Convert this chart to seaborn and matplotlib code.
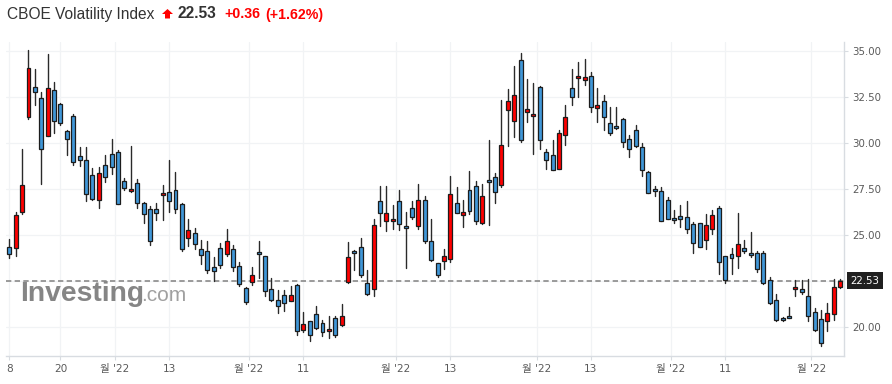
import numpy as np
import pandas as pd
import matplotlib
matplotlib.use("Agg")
import matplotlib.pyplot as plt
import seaborn as sns
from matplotlib.patches import Polygon

# ---------------- data ----------------
title = "CBOE Volatility Index"
last_price = 22.53
change_txt = "+0.36"
change_pct_txt = "(+1.62%)"

opens = [24.36, 24.31, 26.25, 31.38, 33.01, 32.41, 30.38, 32.84, 32.10, 30.63,
         31.43, 29.31, 29.09, 28.28, 26.92, 28.80, 29.42, 29.53, 27.95, 27.39,
         27.84, 26.76, 26.43, 26.43, 27.19, 27.35, 27.46, 26.70, 24.85, 25.12,
         24.25, 24.11, 23.28, 24.31, 23.98, 24.25, 23.33, 22.13, 22.46, 24.09,
         23.87, 22.08, 21.48, 21.75, 21.43, 22.30, 19.85, 20.32, 20.72, 20.21,
         19.80, 20.50, 20.14, 22.46, 24.15, 24.36, 22.41, 22.08, 26.86, 25.78,
         25.78, 26.86, 25.51, 26.48, 25.51, 26.92, 24.69, 23.49, 23.60, 23.69,
         26.76, 26.10, 27.46, 27.68, 25.65, 28.01, 28.17, 27.73, 31.76, 31.21,
         34.47, 31.70, 31.47, 33.01, 29.53, 29.36, 28.60, 30.40, 32.95, 33.50,
         33.42, 33.60, 31.90, 32.25, 31.10, 30.94, 31.32, 30.23, 30.69, 29.78,
         28.44, 27.52, 27.39, 26.92, 25.94, 26.05, 25.98, 25.61, 25.65, 24.74,
         25.34, 26.48, 23.86, 23.98, 23.84, 24.31, 24.04, 24.04, 24.04, 22.57,
         21.48, 20.50, 20.61, 22.06, 22.08, 21.70, 20.81, 20.45, 20.36, 20.72,
         22.17]
highs = [24.78, 26.25, 29.64, 35.02, 34.00, 32.77, 34.80, 33.31, 32.14, 30.72,
         31.59, 29.75, 29.75, 28.64, 28.68, 29.33, 30.23, 29.60, 28.11, 29.82,
         28.06, 26.81, 26.57, 26.74, 27.73, 29.06, 28.44, 26.72, 25.89, 25.40,
         24.74, 24.69, 23.80, 24.58, 25.31, 24.47, 23.53, 22.17, 23.26, 24.69,
         23.89, 22.66, 22.03, 22.03, 22.23, 22.32, 20.81, 20.36, 21.16, 20.40,
         20.59, 20.61, 21.27, 24.64, 24.20, 24.85, 23.11, 25.89, 27.68, 27.68,
         26.65, 27.44, 26.25, 26.86, 27.79, 27.12, 25.89, 23.51, 24.25, 28.19,
         27.59, 26.92, 28.46, 27.93, 27.79, 30.18, 28.37, 32.32, 32.90, 34.17,
         34.86, 33.44, 33.22, 33.08, 29.64, 30.14, 30.72, 32.05, 33.99, 34.40,
         34.53, 33.86, 32.95, 32.57, 31.92, 31.92, 31.34, 30.45, 30.96, 30.00,
         28.48, 27.66, 27.59, 27.06, 26.38, 26.65, 26.85, 25.70, 25.67, 26.16,
         26.38, 26.59, 23.89, 24.31, 26.21, 24.74, 25.16, 24.13, 24.13, 22.71,
         21.81, 20.54, 21.08, 22.57, 22.57, 22.61, 21.05, 20.94, 21.30, 22.62,
         22.60]
lows = [23.77, 23.89, 26.12, 31.32, 32.08, 27.79, 30.36, 30.51, 30.99, 29.36,
        28.78, 28.75, 26.85, 26.88, 26.48, 27.88, 28.33, 26.67, 27.44, 27.34,
        26.48, 25.67, 24.47, 25.83, 25.83, 26.25, 26.19, 24.16, 24.40, 24.26,
        23.44, 22.95, 22.53, 23.20, 23.86, 23.04, 22.26, 21.27, 22.30, 22.68,
        21.72, 21.45, 20.76, 20.90, 21.40, 19.58, 19.72, 19.27, 19.89, 19.53,
        19.42, 19.49, 20.05, 22.39, 23.08, 22.75, 21.77, 21.68, 25.51, 25.20,
        25.34, 25.29, 23.20, 25.89, 25.34, 24.58, 23.58, 22.71, 23.17, 23.53,
        26.19, 25.43, 26.16, 25.61, 25.61, 25.56, 26.74, 27.61, 29.84, 30.33,
        30.05, 31.14, 29.42, 29.64, 28.60, 28.52, 28.58, 29.91, 32.08, 32.46,
        33.13, 31.65, 31.14, 30.72, 30.42, 30.76, 29.78, 29.24, 29.78, 28.21,
        27.28, 27.10, 25.76, 25.85, 25.65, 25.41, 25.11, 24.04, 24.33, 24.25,
        25.07, 22.90, 22.41, 22.90, 23.20, 24.02, 23.80, 22.99, 22.35, 21.27,
        20.32, 20.32, 20.48, 21.72, 21.81, 20.36, 19.78, 19.00, 19.78, 20.40,
        22.12]
closes = [23.98, 26.10, 27.73, 34.04, 32.74, 29.64, 32.95, 31.16, 31.05, 30.23,
          28.98, 29.09, 27.24, 26.97, 28.37, 28.17, 28.69, 26.70, 27.57, 27.52,
          26.74, 26.12, 24.67, 26.21, 27.30, 26.86, 26.43, 24.24, 25.29, 24.53,
          23.93, 23.11, 23.06, 23.39, 24.69, 23.28, 22.35, 21.37, 22.84, 23.98,
          21.97, 21.48, 21.14, 21.30, 21.75, 19.80, 20.18, 19.58, 19.96, 19.74,
          19.91, 19.56, 20.61, 23.82, 24.02, 22.84, 21.81, 25.56, 26.21, 26.21,
          25.89, 25.61, 25.40, 25.99, 26.92, 24.67, 23.66, 22.84, 23.87, 27.24,
          26.21, 26.27, 26.32, 25.78, 27.14, 27.90, 27.35, 29.91, 32.25, 32.57,
          30.16, 31.81, 31.59, 30.13, 29.09, 28.55, 30.51, 31.38, 32.46, 33.62,
          33.55, 31.97, 32.03, 31.38, 30.51, 30.78, 30.04, 29.69, 29.85, 28.51,
          27.30, 27.41, 25.78, 25.89, 25.80, 25.89, 25.34, 24.58, 24.35, 25.56,
          26.10, 23.55, 22.57, 23.77, 24.53, 24.13, 23.91, 23.15, 22.41, 21.30,
          20.40, 20.40, 20.50, 22.19, 21.90, 20.61, 19.85, 19.13, 20.78, 22.17,
          22.53]

tick_pos = [0, 8, 16.5, 25, 37.5, 46, 60.5, 69, 82.5, 91, 103.5, 112, 125.5]
tick_labels = ["8", "20", "월 '22", "13", "월 '22", "11", "월 '22", "13",
               "월 '22", "13", "월 '22", "11", "월 '22"]
y_ticks = [20, 25, 27.5, 30, 32.5, 35]
y_grid = [20, 22.5, 25, 27.5, 30, 32.5, 35]

# ---------------- style ----------------
sns.set_theme(style="white")
plt.rcParams["font.family"] = ["DejaVu Sans", "Noto Sans CJK KR"]

UP = "#ff0000"
DOWN = "#4097d8"
EDGE = "#1c1c1c"
GRID = "#f1f3f5"
AXIS = "#d8dce1"
TXT = "#5a5a5a"

W, H = 892, 384
fig = plt.figure(figsize=(W / 100, H / 100), dpi=100)
fig.patch.set_facecolor("white")
ax = fig.add_axes([6 / W, 1 - 356 / H, 838 / W, 314 / H])
ax.set_facecolor("white")

df = pd.DataFrame({"open": opens, "high": highs, "low": lows, "close": closes})
df["idx"] = np.arange(len(df))
df["up"] = df["close"] >= df["open"]

# wicks through seaborn (one unit per candle)
wick = pd.concat([
    df[["idx", "low"]].rename(columns={"low": "price"}),
    df[["idx", "high"]].rename(columns={"high": "price"}),
])
sns.lineplot(data=wick, x="idx", y="price", units="idx", estimator=None,
             color="#2a2a2a", lw=1.0, ax=ax, zorder=3, legend=False)

bottoms = np.minimum(df["open"], df["close"])
heights = np.maximum((df["close"] - df["open"]).abs(), 0.07)
ax.bar(df["idx"], heights, bottom=bottoms, width=0.62,
       color=np.where(df["up"], UP, DOWN), edgecolor=EDGE, linewidth=0.9,
       zorder=4)

ax.set_xlim(-0.52, 130.6)
ax.set_ylim(18.44, 35.47)

for y in y_grid:
    ax.axhline(y, color=GRID, lw=0.9, zorder=0)
for x in tick_pos:
    ax.axvline(x, color=GRID, lw=0.9, zorder=0)

ax.axhline(last_price, color="#8a8a8a", lw=1.2, ls=(0, (3.2, 2.0)), zorder=2)

# axes / ticks
ax.yaxis.tick_right()
ax.set_yticks(y_ticks)
ax.set_yticklabels([f"{v:.2f}" for v in y_ticks])
ax.set_xticks(tick_pos)
ax.set_xticklabels(tick_labels)
ax.set_xlabel("")
ax.set_ylabel("")
ax.tick_params(axis="y", which="both", right=True, left=False, length=3,
               width=0.8, color=AXIS, labelsize=7.4, labelcolor=TXT, pad=3)
ax.tick_params(axis="x", which="both", bottom=True, length=3, width=0.8,
               color=AXIS, labelsize=7.6, labelcolor=TXT, pad=3)
for s in ["left", "top"]:
    ax.spines[s].set_visible(False)
for s in ["right", "bottom"]:
    ax.spines[s].set_color(AXIS)
    ax.spines[s].set_linewidth(1.0)

ax.annotate(f"{last_price:.2f}", xy=(1, last_price),
            xycoords=("axes fraction", "data"), xytext=(4.5, 0),
            textcoords="offset points", ha="left", va="center",
            color="white", fontsize=7.4,
            bbox=dict(boxstyle="square,pad=0.32", fc="#202020", ec="none"),
            annotation_clip=False, zorder=10)

# watermark
ax.text(20 / W, 1 - 301 / H, "Investing", transform=fig.transFigure,
        fontsize=20.3, fontweight="bold", color="#858585",
        family="Liberation Sans", va="baseline", ha="left", zorder=1)
ax.text(141 / W, 1 - 301 / H, ".com", transform=fig.transFigure,
        fontsize=15, color="#a0a0a0", family="Liberation Sans",
        va="baseline", ha="left", zorder=1)

# header
fig.text(7 / W, 1 - 18.5 / H, title, fontsize=11.2, color="#333333",
         family="Liberation Sans", va="baseline", ha="left")
arrow = Polygon([(167.5 / W, 1 - 9 / H), (173 / W, 1 - 14 / H),
                 (170 / W, 1 - 14 / H), (170 / W, 1 - 18.5 / H),
                 (165 / W, 1 - 18.5 / H), (165 / W, 1 - 14 / H),
                 (162 / W, 1 - 14 / H)], closed=True,
                transform=fig.transFigure, facecolor="#ff0000",
                edgecolor="none")
fig.patches.append(arrow)
fig.text(177 / W, 1 - 18.5 / H, f"{last_price:.2f}", fontsize=11.2,
         fontweight="bold", color="#333333", family="Liberation Sans",
         va="baseline", ha="left")
fig.text(224 / W, 1 - 18.5 / H, change_txt, fontsize=10.2, fontweight="bold",
         color="#ff0000", family="Liberation Sans", va="baseline", ha="left")
fig.text(265 / W, 1 - 18.5 / H, change_pct_txt, fontsize=10.2,
         fontweight="bold", color="#ff0000", family="Liberation Sans",
         va="baseline", ha="left")

fig.savefig("out.png", dpi=100, facecolor="white")
